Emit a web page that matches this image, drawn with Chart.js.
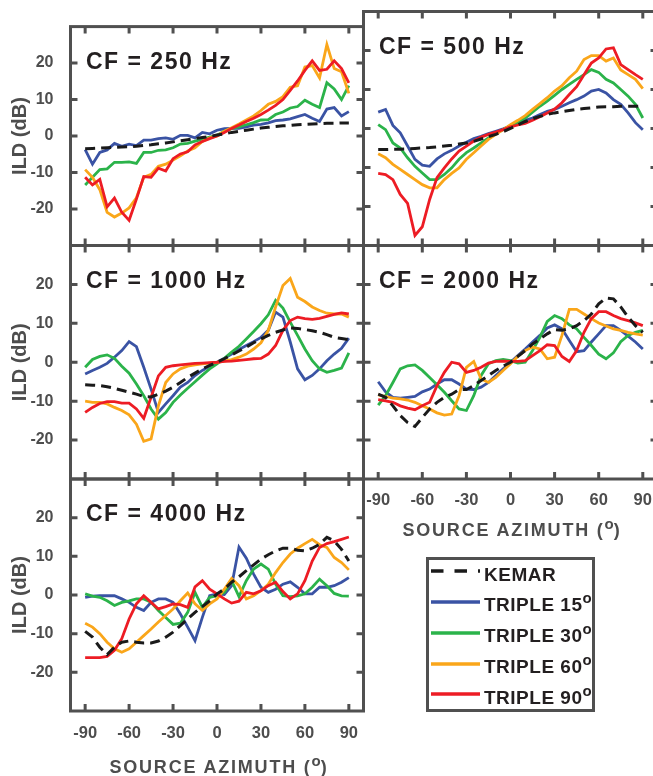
<!DOCTYPE html>
<html>
<head>
<meta charset="utf-8">
<script src="https://cdn.jsdelivr.net/npm/chart.js@4.4.1/dist/chart.umd.min.js"></script>
<style>
    body {
        margin: 0;
        width: 653px;
        height: 776px;
        overflow: hidden;
        position: relative;
        background: #fff;
        font-family: "Liberation Sans", Arial, Helvetica, sans-serif;
    }
    canvas.panel { position: absolute; left: 0; top: 0; }
    .x-title {
        position: absolute;
        transform: translateX(-50%);
        white-space: nowrap;
        font-weight: bold;
        font-size: 18px;
        line-height: 18px;
        letter-spacing: 1.8px;
        color: #4d4d4d;
    }
    .deg { position: relative; font-size: 15px; letter-spacing: 0; }
    #legend-box {
        position: absolute;
        left: 425.5px;
        top: 556.5px;
        width: 169.5px;
        height: 155.5px;
        box-sizing: border-box;
        border: 3px solid #505050;
    }
    .legend-text {
        position: absolute;
        white-space: nowrap;
        font-weight: bold;
        font-size: 19px;
        line-height: 19px;
        letter-spacing: 0.5px;
        color: #231f20;
    }
    .legend-line { position: absolute; }
</style>
</head>
<body>
<div id="legend-box"></div>
<script>
// azimuth of each measurement (deg)
const azimuth = [-90, -85, -80, -75, -70, -65, -60, -55, -50, -45, -40, -35, -30, -25, -20, -15, -10, -5,
    0, 5, 10, 15, 20, 25, 30, 35, 40, 45, 50, 55, 60, 65, 70, 75, 80, 85, 90];
const azimuthTicks = [-90, -60, -30, 0, 30, 60, 90];
const ildTicks = [-20, -10, 0, 10, 20];

const seriesNames = ['KEMAR', 'TRIPLE 15°', 'TRIPLE 30°', 'TRIPLE 60°', 'TRIPLE 90°'];
const seriesColors = ['#1a1a1a', '#3a53a4', '#2bb34a', '#faa61a', '#ed1c24'];
const drawOrder = [0, 4, 3, 2, 1];

// ILD (dB), CF = 250 Hz
const kemar250 = [-3.5, -3.4, -3.3, -3.2, -3.1, -3.0, -2.9, -2.8, -2.6, -2.4, -2.1, -1.9, -1.6, -1.3, -1.0, -0.7, -0.4, -0.1,
    0.3, 0.6, 1.0, 1.3, 1.6, 1.9, 2.2, 2.4, 2.6, 2.8, 2.9, 3.1, 3.2, 3.3, 3.4, 3.5, 3.5, 3.6, 3.6];
const triple15_250 = [-3.7, -7.7, -4.5, -3.8, -2.0, -2.8, -2.2, -2.6, -1.1, -1.1, -0.7, -0.5, -0.9, 0.2, 0.2, -0.5, 1.0, 0.6,
    1.6, 2.0, 2.1, 2.1, 2.5, 3.0, 3.2, 3.6, 4.2, 4.4, 4.7, 5.3, 5.9, 4.9, 4.0, 7.4, 7.8, 5.5, 6.7];
const triple30_250 = [-13.4, -11.3, -9.2, -9.0, -7.2, -7.2, -7.1, -7.5, -4.5, -4.5, -3.9, -3.8, -3.2, -2.2, -2.0, -1.4, -0.9, -0.3,
    0.2, 1.3, 2.0, 2.5, 3.1, 3.7, 4.4, 4.5, 5.9, 6.6, 7.7, 8.1, 9.8, 8.7, 7.8, 14.6, 12.9, 10.0, 13.8];
const triple60_250 = [-9.2, -11.3, -14.7, -20.9, -22.2, -21.1, -19.7, -16.9, -11.3, -10.5, -8.3, -7.7, -6.6, -5.4, -4.1, -3.2, -1.5, -0.5,
    0.0, 1.3, 2.3, 3.3, 4.4, 5.5, 7.0, 8.7, 9.5, 10.8, 13.4, 13.8, 18.9, 19.3, 15.9, 25.1, 18.5, 17.6, 11.7];
const triple90_250 = [-11.3, -13.4, -11.9, -19.4, -17.0, -20.9, -23.1, -17.3, -11.1, -11.3, -8.8, -9.6, -6.2, -4.9, -4.3, -2.4, -1.5, -0.7,
    0.0, 1.0, 2.1, 3.0, 4.0, 4.9, 5.9, 7.1, 8.4, 10.0, 12.5, 15.1, 18.0, 20.6, 18.0, 18.3, 20.6, 18.5, 14.6];

// ILD (dB), CF = 500 Hz
const kemar500 = [-5.4, -5.4, -5.3, -5.3, -5.2, -5.1, -5.0, -4.9, -4.7, -4.5, -4.3, -4.0, -3.7, -3.3, -2.7, -2.1, -1.5, -0.8,
    0.0, 0.9, 1.8, 2.5, 3.1, 3.6, 4.0, 4.3, 4.6, 4.9, 5.1, 5.3, 5.5, 5.6, 5.6, 5.7, 5.7, 5.7, 5.7];
const triple15_500 = [4.2, 4.9, 0.8, -1.1, -4.5, -7.9, -9.4, -9.7, -7.8, -6.5, -5.6, -4.5, -3.5, -2.6, -2.0, -1.3, -0.7, -0.1,
    0.6, 1.3, 2.1, 2.7, 3.6, 4.4, 4.9, 5.7, 6.6, 7.4, 8.3, 9.6, 10.0, 9.1, 7.4, 6.2, 4.0, 1.5, -0.3];
const triple30_500 = [1.0, -0.3, -3.7, -5.0, -7.5, -9.7, -11.4, -13.1, -13.1, -11.8, -10.1, -7.9, -6.2, -5.0, -3.7, -2.4, -1.3, -0.3,
    0.8, 1.6, 2.7, 4.2, 5.7, 7.0, 8.5, 10.0, 11.3, 12.6, 13.8, 15.1, 14.4, 12.6, 11.7, 10.0, 8.3, 6.2, 2.7];
const triple60_500 = [-6.5, -7.5, -9.2, -10.5, -11.8, -13.1, -14.4, -15.2, -15.2, -13.1, -11.5, -10.1, -7.9, -6.2, -4.5, -2.8, -1.5, -0.3,
    1.0, 2.1, 3.3, 4.9, 6.4, 7.9, 9.6, 11.0, 13.0, 14.7, 17.7, 18.7, 18.7, 17.3, 18.1, 15.0, 13.8, 12.6, 10.2];
const triple90_500 = [-11.5, -11.8, -13.1, -16.9, -19.2, -27.4, -25.2, -18.2, -12.6, -10.1, -7.8, -5.8, -4.5, -3.2, -2.2, -1.5, -0.9, -0.3,
    0.4, 0.9, 1.3, 2.1, 3.0, 4.0, 5.0, 6.6, 8.7, 10.7, 13.8, 16.8, 18.1, 20.4, 20.7, 16.4, 15.1, 13.8, 12.6];

// ILD (dB), CF = 1000 Hz
const kemar1000 = [-5.8, -5.9, -6.0, -6.3, -6.7, -7.2, -7.7, -8.2, -8.8, -8.9, -8.2, -7.4, -6.4, -5.2, -3.9, -2.8, -1.7, -0.8,
    0.0, 0.9, 1.9, 2.9, 3.9, 5.0, 6.0, 6.9, 7.7, 8.3, 8.8, 8.7, 8.4, 8.1, 7.7, 7.1, 6.4, 6.1, 5.8];
const triple15_1000 = [-3.0, -2.1, -1.3, -0.3, 1.3, 3.0, 5.3, 4.0, -1.3, -6.9, -12.9, -10.7, -8.6, -6.4, -5.2, -3.4, -2.1, -1.0,
    0.0, 1.0, 2.1, 3.3, 4.3, 5.3, 6.4, 8.2, 12.9, 11.6, 5.2, -1.7, -4.5, -3.4, -1.7, 0.4, 2.1, 3.6, 6.2];
const triple30_1000 = [-1.3, 0.7, 1.5, 1.9, 1.0, -1.0, -2.8, -5.6, -8.6, -12.0, -14.6, -12.9, -10.3, -8.4, -6.7, -5.0, -3.3, -1.7,
    -0.4, 1.0, 2.6, 4.1, 6.0, 7.9, 9.9, 12.2, 15.9, 13.9, 10.3, 6.9, 3.4, 0.4, -1.7, -2.6, -2.1, -1.5, 2.4];
const triple60_1000 = [-10.0, -10.3, -10.3, -10.7, -11.6, -12.4, -13.5, -15.9, -20.3, -19.7, -11.2, -5.2, -3.0, -1.7, -1.0, -0.7, -0.4, -0.2,
    0.0, 0.3, 0.7, 1.3, 2.1, 3.4, 5.0, 8.2, 14.2, 19.7, 21.5, 16.7, 15.6, 14.2, 13.3, 12.6, 12.4, 12.4, 11.6];
const triple90_1000 = [-12.9, -11.6, -10.6, -10.1, -10.1, -10.5, -10.5, -12.0, -14.4, -9.0, -3.5, -1.3, -0.9, -0.7, -0.5, -0.3, -0.2, -0.1,
    0.0, 0.2, 0.3, 0.5, 0.7, 0.9, 1.0, 2.1, 4.3, 8.2, 10.7, 11.6, 11.2, 11.0, 11.3, 11.8, 12.3, 12.7, 12.4];

// ILD (dB), CF = 2000 Hz
const kemar2000 = [-8.2, -9.0, -11.2, -13.7, -15.5, -16.5, -14.2, -12.0, -10.3, -9.0, -8.2, -7.0, -7.0, -6.0, -4.7, -3.4, -2.1, -1.0,
    0.0, 1.5, 3.0, 4.7, 6.0, 7.3, 8.4, 8.2, 8.6, 9.4, 10.7, 12.4, 15.0, 16.5, 16.3, 14.2, 11.6, 9.4, 7.7];
const triple15_2000 = [-5.0, -7.6, -9.0, -9.2, -9.0, -8.8, -7.6, -6.9, -5.6, -4.5, -4.5, -5.6, -6.9, -7.0, -6.4, -5.2, -3.4, -1.7,
    0.0, 1.7, 3.4, 5.2, 6.9, 8.8, 9.6, 8.6, 5.6, 2.7, 3.0, 5.2, 7.3, 9.4, 9.4, 8.2, 6.7, 5.2, 3.4];
const triple30_2000 = [-11.0, -8.6, -5.2, -1.7, -0.9, -0.7, -2.1, -3.9, -5.8, -7.7, -9.9, -12.0, -12.4, -8.6, -3.4, -0.4, 0.4, 0.7,
    0.4, -0.2, 0.0, 3.0, 6.4, 10.5, 12.0, 11.2, 9.6, 8.6, 6.4, 4.3, 2.1, 0.9, 2.4, 5.3, 6.9, 7.7, 8.2];
const triple60_2000 = [-8.4, -8.8, -9.2, -9.4, -9.7, -10.3, -11.2, -12.0, -13.0, -13.6, -13.3, -8.6, -1.3, 0.2, -4.3, -5.2, -3.9, -2.1,
    -0.4, 1.5, 3.0, 3.9, 3.4, 0.9, 1.3, 6.9, 13.6, 13.6, 12.4, 11.2, 10.1, 9.3, 8.6, 8.2, 7.7, 7.3, 7.0];
const triple90_2000 = [-9.6, -9.9, -10.3, -11.2, -11.8, -12.2, -11.2, -10.3, -6.0, -2.6, 0.0, -0.4, -2.6, -2.1, -1.3, -0.2, 0.2, 0.3,
    0.2, 0.2, 0.4, 1.7, 3.0, 4.5, 4.3, 1.5, 0.2, 3.0, 7.7, 11.2, 13.0, 13.0, 12.0, 11.2, 10.7, 10.1, 9.4];

// ILD (dB), CF = 4000 Hz
const kemar4000 = [-9.4, -10.9, -13.5, -15.4, -13.5, -12.2, -11.9, -12.2, -12.4, -12.4, -11.9, -10.9, -9.6, -7.9, -6.2, -4.5, -3.0, -1.5,
    0.3, 1.5, 3.3, 4.7, 6.3, 7.8, 9.3, 10.4, 11.4, 12.1, 12.1, 11.6, 11.4, 12.1, 13.1, 14.9, 14.0, 11.8, 8.8];
const triple15_4000 = [-0.6, -0.3, -0.2, -0.2, -0.2, -1.0, -1.9, -3.2, -4.0, -1.9, -1.0, -1.0, -1.9, -4.9, -8.3, -11.8, -5.8, -0.2,
    0.3, 0.1, 2.4, 12.4, 9.5, 5.4, 2.0, 0.7, 1.5, 2.8, 3.4, 2.0, 0.3, 0.3, 2.0, 2.0, 2.4, 3.3, 4.5];
const triple30_4000 = [0.3, -0.3, -0.6, -1.5, -2.7, -1.9, -1.5, -1.0, -1.0, -1.9, -4.0, -5.8, -7.6, -7.3, -4.5, 0.7, -3.2, -0.6,
    -0.2, 0.7, 3.7, -0.4, 3.7, 6.7, 8.0, 6.7, 2.8, -0.2, -0.4, -0.2, 0.3, 2.0, 4.1, 2.4, 0.4, -0.2, -0.3];
const triple60_4000 = [-7.3, -8.3, -10.0, -12.2, -13.9, -14.8, -13.9, -12.2, -10.5, -8.8, -7.0, -5.3, -3.6, -1.5, 0.5, -2.3, -4.0, -2.3,
    -1.0, 1.5, 4.3, 2.4, -1.0, -0.2, 1.1, 2.8, 5.8, 8.4, 10.6, 12.1, 13.3, 14.4, 13.0, 12.3, 9.7, 8.4, 6.5];
const triple90_4000 = [-16.2, -16.2, -16.2, -15.9, -14.3, -11.3, -6.2, -2.3, -0.2, -1.9, -3.6, -3.0, -2.3, -2.5, -3.2, 2.1, 3.7, 1.5,
    0.3, -1.0, -2.1, -1.6, 0.7, 0.3, 1.1, 2.4, 3.3, 0.9, -1.0, 0.3, 3.7, 8.8, 12.3, 13.3, 13.8, 14.4, 15.0];

// panel layout (page pixels of each plot frame)
const panels = [
    { label: 'CF = 250 Hz', series: [kemar250, triple15_250, triple30_250, triple60_250, triple90_250],
      area: { left: 70.5, top: 11.5, right: 363.5, bottom: 245.5 }, yLabels: true, xLabels: false },
    { label: 'CF = 500 Hz', series: [kemar500, triple15_500, triple30_500, triple60_500, triple90_500],
      area: { left: 363.5, top: 11.5, right: 657.5, bottom: 245.5 }, yLabels: false, xLabels: false },
    { label: 'CF = 1000 Hz', series: [kemar1000, triple15_1000, triple30_1000, triple60_1000, triple90_1000],
      area: { left: 70.5, top: 245.5, right: 363.5, bottom: 479 }, yLabels: true, xLabels: false },
    { label: 'CF = 2000 Hz', series: [kemar2000, triple15_2000, triple30_2000, triple60_2000, triple90_2000],
      area: { left: 363.5, top: 245.5, right: 657.5, bottom: 479 }, yLabels: false, xLabels: true, xPad: 12 },
    { label: 'CF = 4000 Hz', series: [kemar4000, triple15_4000, triple30_4000, triple60_4000, triple90_4000],
      area: { left: 70.5, top: 479, right: 363.5, bottom: 711 }, yLabels: true, xLabels: true, xPad: 13 }
];

const CANVAS_W = 670;
const CANVAS_H = 776;
const X_AXIS_H = 40;
const inkGray = '#4d4d4d';
const frameGray = '#505050';

Chart.defaults.font.family = '"Liberation Sans", Arial, Helvetica, sans-serif';

// frame with inward ticks on all four sides, plus the CF label
const panelDecor = {
    id: 'panelDecor',
    afterDatasetsDraw(chart) {
        const { ctx, chartArea: a, scales: { x, y } } = chart;
        const len = 7;
        ctx.save();
        ctx.strokeStyle = frameGray;
        ctx.lineWidth = 3;
        ctx.strokeRect(a.left, a.top, a.right - a.left, a.bottom - a.top);
        ctx.beginPath();
        x.ticks.forEach(t => {
            const px = x.getPixelForValue(t.value);
            ctx.moveTo(px, a.bottom);
            ctx.lineTo(px, a.bottom - len);
            ctx.moveTo(px, a.top);
            ctx.lineTo(px, a.top + len);
        });
        y.ticks.forEach(t => {
            const py = y.getPixelForValue(t.value);
            ctx.moveTo(a.left, py);
            ctx.lineTo(a.left + len, py);
            ctx.moveTo(a.right, py);
            ctx.lineTo(a.right - len, py);
        });
        ctx.stroke();
        ctx.restore();
    },
    afterDraw(chart, args, opts) {
        const { ctx, chartArea: a } = chart;
        ctx.save();
        ctx.font = 'bold 23px "Liberation Sans", Arial, sans-serif';
        ctx.letterSpacing = '1.5px';
        ctx.fillStyle = '#231f20';
        ctx.textBaseline = 'alphabetic';
        ctx.fillText(opts.text, a.left + 15.5, a.top + 42);
        ctx.restore();
    }
};

function buildPanel(p) {
    const canvas = document.createElement('canvas');
    canvas.className = 'panel';
    canvas.width = CANVAS_W;
    canvas.height = CANVAS_H;
    document.body.appendChild(canvas);
    const a = p.area;

    return new Chart(canvas, {
        type: 'line',
        data: {
            datasets: p.series.map((vals, i) => ({
                label: seriesNames[i],
                data: azimuth.map((az, j) => ({ x: az, y: vals[j] })),
                borderColor: seriesColors[i],
                borderWidth: i === 0 ? 3 : 2.8,
                borderDash: i === 0 ? [10, 6] : [],
                pointRadius: 0,
                tension: 0,
                fill: false,
                order: drawOrder[i]
            }))
        },
        options: {
            responsive: false,
            animation: false,
            events: [],
            layout: {
                padding: { left: 0, top: a.top, right: CANVAS_W - a.right, bottom: CANVAS_H - a.bottom - X_AXIS_H }
            },
            plugins: {
                legend: { display: false },
                tooltip: { enabled: false },
                panelDecor: { text: p.label }
            },
            scales: {
                x: {
                    type: 'linear',
                    min: -100,
                    max: 100,
                    afterBuildTicks: s => { s.ticks = azimuthTicks.map(v => ({ value: v })); },
                    afterFit: s => { s.height = X_AXIS_H; },
                    grid: { display: false, drawTicks: false },
                    border: { display: false },
                    ticks: {
                        display: p.xLabels,
                        padding: p.xPad || 0,
                        autoSkip: false,
                        maxRotation: 0,
                        color: inkGray,
                        font: { size: 16.5, weight: 'bold' }
                    }
                },
                y: {
                    type: 'linear',
                    min: -30,
                    max: 30,
                    afterBuildTicks: s => { s.ticks = ildTicks.map(v => ({ value: v })); },
                    afterFit: s => { s.width = a.left; },
                    grid: { display: false, drawTicks: false },
                    border: { display: false },
                    ticks: {
                        display: p.yLabels,
                        padding: 17,
                        color: inkGray,
                        font: { size: 16, weight: 'bold' }
                    },
                    title: {
                        display: p.yLabels,
                        text: 'ILD (dB)',
                        color: inkGray,
                        font: { size: 20, weight: 'bold' },
                        padding: { top: 8, bottom: 0 }
                    }
                }
            }
        },
        plugins: [panelDecor]
    });
}

panels.forEach(buildPanel);

// "o" raised after the degree values
function withDegree(text, size, lift) {
    return text.replace('°', '<span class="deg" style="font-size:' + size + 'px;top:-' + lift + 'px">o</span>');
}

// azimuth titles under the two bottom rows of axes
[{ x: 219, top: 757.6 }, { x: 512, top: 521.2 }].forEach(pos => {
    const div = document.createElement('div');
    div.className = 'x-title';
    div.style.left = pos.x + 'px';
    div.style.top = pos.top + 'px';
    div.innerHTML = withDegree('SOURCE AZIMUTH (°)', 15, 7);
    document.body.appendChild(div);
});

// legend rows built from the series names, colours and dash style
seriesNames.forEach((name, i) => {
    const baseline = 580.7 + i * 30.8;
    const lineY = baseline - 9.5;

    const svg = document.createElementNS('http://www.w3.org/2000/svg', 'svg');
    svg.setAttribute('class', 'legend-line');
    svg.setAttribute('width', '50');
    svg.setAttribute('height', '8');
    svg.style.left = '431px';
    svg.style.top = (lineY - 4) + 'px';
    const ln = document.createElementNS('http://www.w3.org/2000/svg', 'line');
    ln.setAttribute('x1', '0');
    ln.setAttribute('x2', '49');
    ln.setAttribute('y1', '4');
    ln.setAttribute('y2', '4');
    ln.setAttribute('stroke', seriesColors[i]);
    ln.setAttribute('stroke-width', '3.6');
    if (i === 0) ln.setAttribute('stroke-dasharray', '12.5 11');
    svg.appendChild(ln);
    document.body.appendChild(svg);

    const label = document.createElement('div');
    label.className = 'legend-text';
    label.style.left = '484px';
    label.style.top = (baseline - 0.8465 * 19) + 'px';
    label.innerHTML = withDegree(name, 15, 8);
    document.body.appendChild(label);
});
</script>
</body>
</html>
